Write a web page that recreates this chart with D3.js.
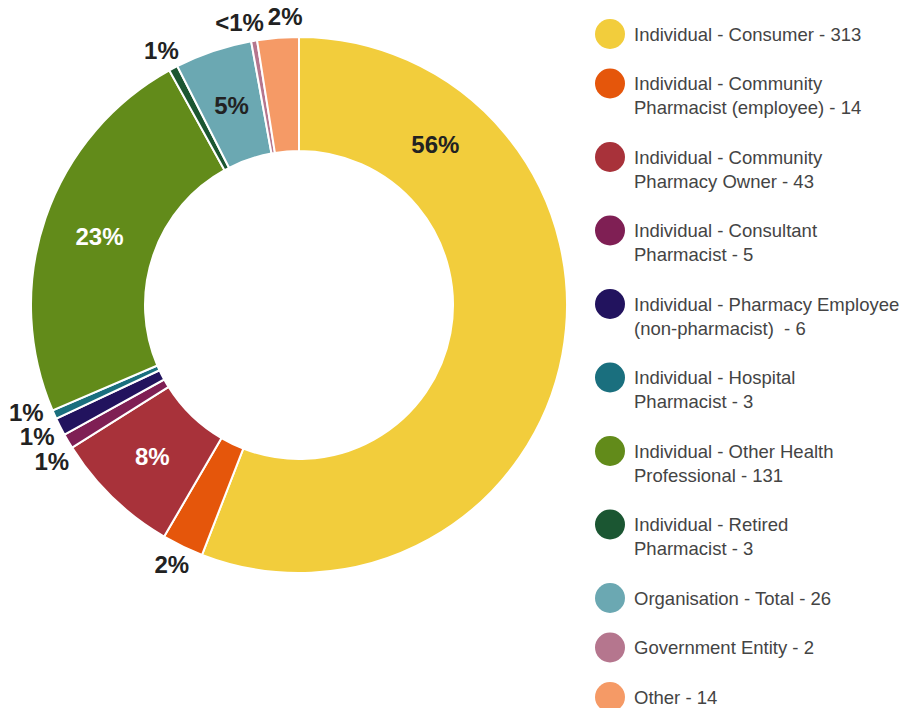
<!DOCTYPE html>
<html>
<head>
<meta charset="utf-8">
<script src="https://cdn.jsdelivr.net/npm/d3@7"></script>
<style>
  html, body { margin: 0; padding: 0; background: #fff; }
  svg { display: block; font-family: "Liberation Sans", Arial, Helvetica, sans-serif; }
</style>
</head>
<body>
<script>
// Data
const categories = [
  'Individual - Consumer',
  'Individual - Community Pharmacist (employee)',
  'Individual - Community Pharmacy Owner',
  'Individual - Consultant Pharmacist',
  'Individual - Pharmacy Employee (non-pharmacist) ',
  'Individual - Hospital Pharmacist',
  'Individual - Other Health Professional',
  'Individual - Retired Pharmacist',
  'Organisation - Total',
  'Government Entity',
  'Other'
];
const counts = [313, 14, 43, 5, 6, 3, 131, 3, 26, 2, 14];
const pctLabels = ['56%', '2%', '8%', '1%', '1%', '1%', '23%', '1%', '5%', '<1%', '2%'];
const legendLines = [
  ['Individual - Consumer - 313'],
  ['Individual - Community', 'Pharmacist (employee) - 14'],
  ['Individual - Community', 'Pharmacy Owner - 43'],
  ['Individual - Consultant', 'Pharmacist - 5'],
  ['Individual - Pharmacy Employee', '(non-pharmacist)  - 6'],
  ['Individual - Hospital', 'Pharmacist - 3'],
  ['Individual - Other Health', 'Professional - 131'],
  ['Individual - Retired', 'Pharmacist - 3'],
  ['Organisation - Total - 26'],
  ['Government Entity - 2'],
  ['Other - 14']
];
const colors = ['#f2cd3c', '#e5560b', '#a8323a', '#7f1f54', '#22135e', '#1a6f7e',
                '#628b1a', '#1b5632', '#6ba8b2', '#b5768e', '#f59a66'];

const W = 903, H = 708;
const cx = 299, cy = 305;
const outerR = 268, innerR = 154;

const svg = d3.select('body').append('svg')
  .attr('width', W)
  .attr('height', H);

const data = categories.map((c, i) => ({ name: c, value: counts[i], label: pctLabels[i], color: colors[i] }));
const total = d3.sum(counts);

const pie = d3.pie().value(d => d.value).sort(null);
const arcs = pie(data);
const arc = d3.arc().innerRadius(innerR).outerRadius(outerR);

const g = svg.append('g').attr('transform', `translate(${cx},${cy})`);

g.selectAll('path.slice')
  .data(arcs)
  .enter().append('path')
  .attr('class', 'slice')
  .attr('d', arc)
  .attr('fill', d => d.data.color)
  .attr('stroke', '#fff')
  .attr('stroke-width', 2);

// labels: inside for big slices, outside for small ones
const fontSize = 24;
const midR = (innerR + outerR) / 2;
const inside = arcs.filter(d => d.value / total > 0.04);
const outside = arcs.filter(d => d.value / total <= 0.04);

function textColor(c) {
  const hsl = d3.hsl(c);
  return hsl.l > 0.55 || (hsl.h > 40 && hsl.h < 70) ? '#222' : '#fff';
}

g.selectAll('text.inside')
  .data(inside)
  .enter().append('text')
  .attr('class', 'inside')
  .attr('transform', d => {
    // the big first slice gets its label nearer its leading edge
    const span = d.endAngle - d.startAngle;
    const a = span > Math.PI ? d.startAngle + span * 0.2 : (d.startAngle + d.endAngle) / 2;
    return `translate(${midR * Math.sin(a)},${-midR * Math.cos(a)})`;
  })
  .attr('text-anchor', 'middle')
  .attr('dy', '0.36em')
  .attr('font-size', fontSize)
  .attr('font-weight', 'bold')
  .attr('fill', d => textColor(d.data.color))
  .text(d => d.data.label);

// outside labels, pushed apart along the tangent when they overlap
const labR = outerR + 8;
const boxH = 24;
const outText = g.selectAll('text.outside')
  .data(outside)
  .enter().append('text')
  .attr('class', 'outside')
  .attr('text-anchor', 'middle')
  .attr('dy', '0.36em')
  .attr('font-size', fontSize)
  .attr('font-weight', 'bold')
  .attr('fill', '#222')
  .text(d => d.data.label);

const outs = [];
outText.each(function (d) {
  const a = (d.startAngle + d.endAngle) / 2;
  const w = this.getComputedTextLength();
  const px = labR * Math.sin(a), py = -labR * Math.cos(a);
  outs.push({ a, w, x: px + Math.sin(a) * w / 2, y: py - Math.cos(a) * boxH / 2 });
});
for (let it = 0; it < 50; it++) {
  let moved = false;
  for (let i = 0; i < outs.length; i++) {
    for (let j = i + 1; j < outs.length; j++) {
      const p = outs[i], q = outs[j];
      const ox = (p.w + q.w) / 2 + 3 - Math.abs(p.x - q.x);
      const oy = boxH - Math.abs(p.y - q.y);
      if (ox > 0.5 && oy > 0.5) {
        const ta = (p.a + q.a) / 2;
        const tx = Math.cos(ta), ty = Math.sin(ta);
        const need = Math.min(Math.abs(tx) > 0.01 ? ox / Math.abs(tx) : 1e9,
                              Math.abs(ty) > 0.01 ? oy / Math.abs(ty) : 1e9);
        const s = need / 2 + 0.5;
        p.x -= tx * s; p.y -= ty * s;
        q.x += tx * s; q.y += ty * s;
        moved = true;
      }
    }
  }
  if (!moved) break;
}
outText
  .attr('x', (d, i) => outs[i].x)
  .attr('y', (d, i) => outs[i].y);

// legend
const legX = 610, lineH = 24, gap = 25.5;
let y = 34;
const leg = svg.append('g');
data.forEach((d, i) => {
  const row = leg.append('g').attr('transform', `translate(${legX},${y})`);
  row.append('circle').attr('r', 15).attr('fill', d.color);
  legendLines[i].forEach((t, k) => {
    row.append('text')
      .attr('x', 24)
      .attr('y', k * lineH)
      .attr('dy', '0.36em')
      .attr('font-size', 18.5)
      .attr('fill', '#444')
      .style('white-space', 'pre')
      .text(t);
  });
  y += legendLines[i].length * lineH + gap;
});
</script>
</body>
</html>
